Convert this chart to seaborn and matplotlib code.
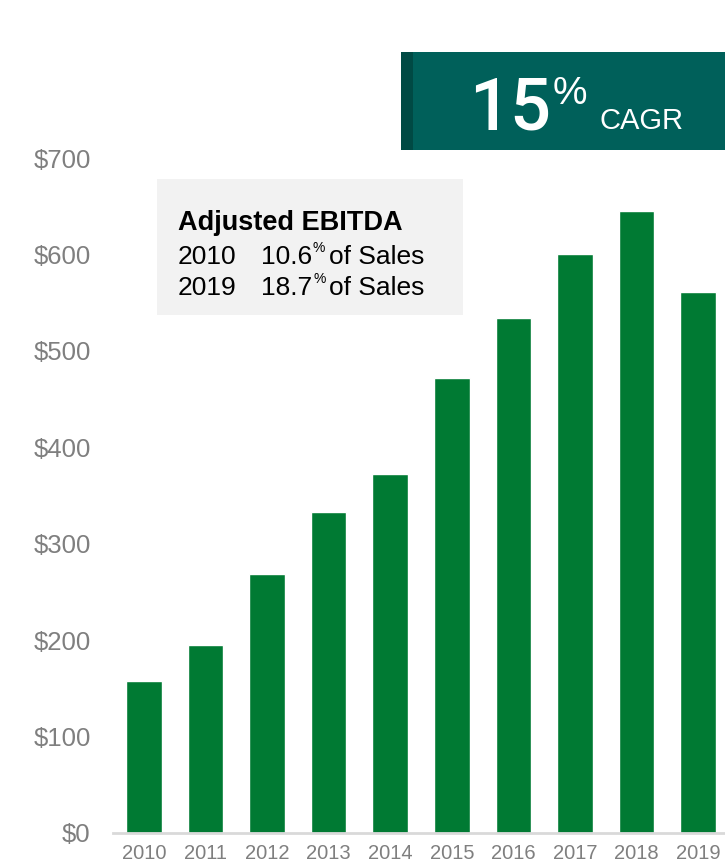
import matplotlib
matplotlib.use("Agg")
import matplotlib.pyplot as plt
import matplotlib.patches as patches
import seaborn as sns
import pandas as pd

# data
years = ["2010", "2011", "2012", "2013", "2014", "2015", "2016", "2017", "2018", "2019"]
ebitda = [158, 195, 269, 333, 372, 472, 534, 600, 645, 561]
y_ticks = [0, 100, 200, 300, 400, 500, 600, 700]
y_tick_labels = ["$" + str(v) for v in y_ticks]
cagr_value = "15"
box_title = "Adjusted EBITDA"
box_rows = [("2010", "10.6"), ("2019", "18.7")]

W, H = 725, 868
BAR = "#007A33"
GRAY = "#7F7F7F"
FONT = ["Liberation Sans", "DejaVu Sans"]
NARROW = ["Liberation Sans Narrow", "Liberation Sans", "DejaVu Sans"]

sns.set_theme(style="white")
plt.rcParams["font.family"] = FONT

df = pd.DataFrame({"Year": years, "EBITDA": ebitda})

fig = plt.figure(figsize=(W / 100, H / 100), dpi=100)
ax = fig.add_axes([113 / W, (H - 833) / H, 616 / W, 675 / H])

sns.barplot(data=df, x="Year", y="EBITDA", color=BAR, saturation=1, width=0.58, ax=ax)

ax.set_ylim(0, 700)
ax.set_yticks(y_ticks)
ax.set_yticklabels(y_tick_labels, fontsize=18.5, color=GRAY)
ax.tick_params(axis="y", length=0, pad=16)
ax.tick_params(axis="x", length=0, pad=8)
for lbl in ax.get_xticklabels():
    lbl.set_fontsize(14.5)
    lbl.set_color(GRAY)
    lbl.set_family(NARROW)
ax.set_xlabel("")
ax.set_ylabel("")
for s in ["top", "right", "left"]:
    ax.spines[s].set_visible(False)
ax.spines["bottom"].set_color("#D9D9D9")
ax.spines["bottom"].set_linewidth(2)
ax.grid(False)


def px(x, y):
    return x / W, 1 - y / H


renderer = fig.canvas.get_renderer()


def chain(x, y, pieces):
    # pieces: (text, size, weight, dy, gap, color, family)
    for txt, size, weight, dy, gap, color, fam in pieces:
        t = fig.text(*px(x, y + dy), txt, fontsize=size, fontweight=weight,
                     color=color, ha="left", va="baseline", family=fam)
        bb = t.get_window_extent(renderer)
        x = x + bb.width + gap


# CAGR banner
fig.patches.append(patches.Rectangle(px(401, 150), 324 / W, 98 / H, transform=fig.transFigure,
                                     facecolor="#00605A", edgecolor="none"))
fig.patches.append(patches.Rectangle(px(401, 150), 12 / W, 98 / H, transform=fig.transFigure,
                                     facecolor="#004A44", edgecolor="none"))
chain(469, 129, [(cagr_value, 52, "medium", 0, 2, "white", ["Roboto", "Liberation Sans"]),
                 ("%", 28, "normal", -25, 12, "white", FONT),
                 ("CAGR", 21, "normal", 0, 0, "white", NARROW)])

# info box
fig.patches.append(patches.Rectangle(px(157, 315), 306 / W, 136 / H, transform=fig.transFigure,
                                     facecolor="#F2F2F2", edgecolor="none"))
fig.text(*px(178, 230), box_title, fontsize=19.5, fontweight="bold", color="black",
         ha="left", va="baseline")
row_y = [264, 295]
for (yr, pct), yy in zip(box_rows, row_y):
    chain(178, yy, [(yr, 19, "normal", 0, 24, "black", FONT),
                    (pct, 19, "normal", 0, 1, "black", FONT),
                    ("%", 10, "normal", -12, 4, "black", FONT),
                    ("of Sales", 19, "normal", 0, 0, "black", FONT)])

fig.savefig("out.png", dpi=100)
